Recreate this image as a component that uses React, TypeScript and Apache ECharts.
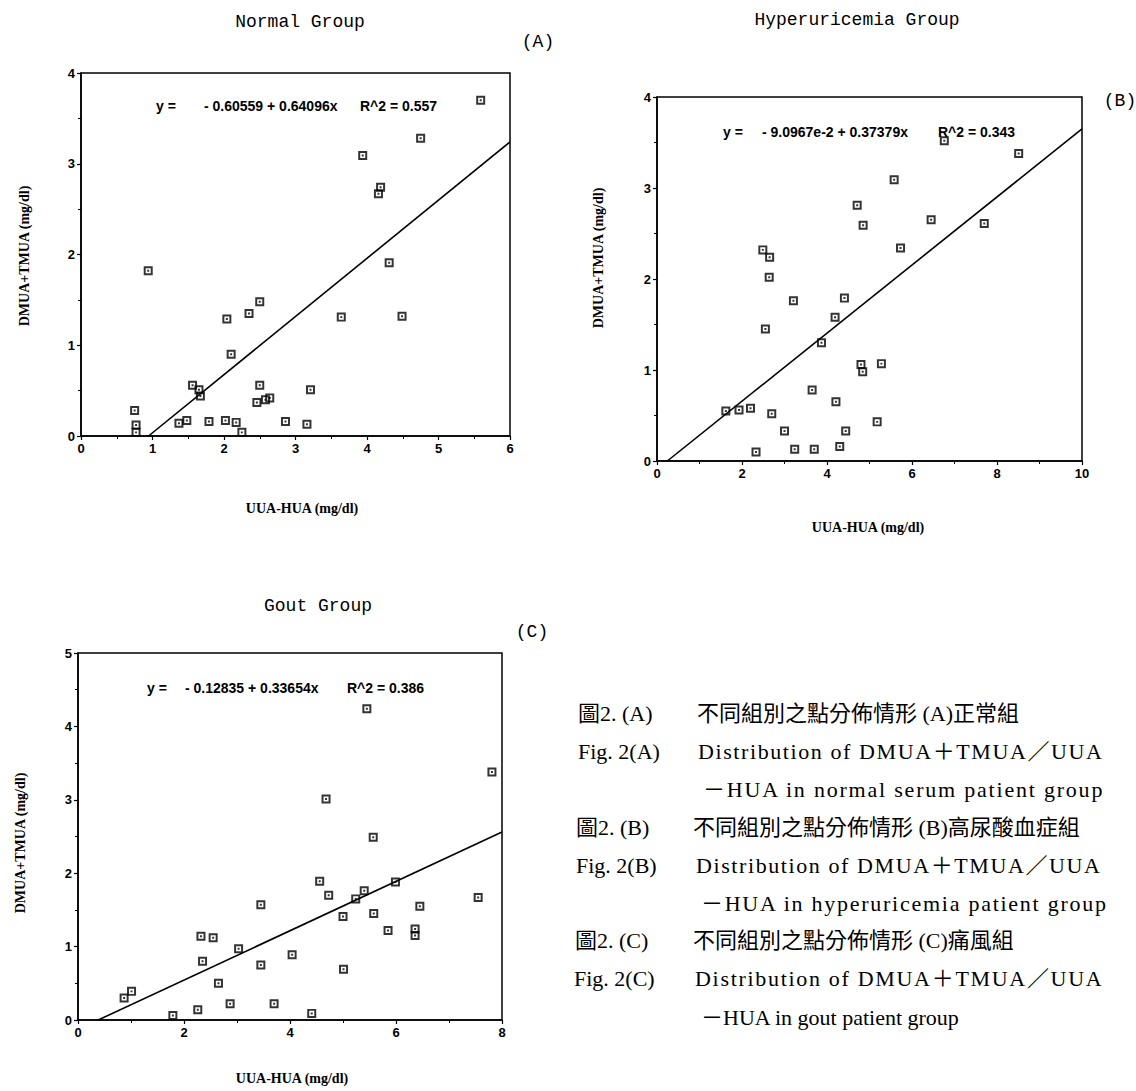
import React, { useEffect, useRef } from "react";
import * as echarts from "echarts";

// ---------- Data ----------
const normalX = [5.59, 4.75, 3.94, 4.19, 4.16, 4.31, 0.94, 2.5, 2.35, 2.04, 3.64, 4.49, 2.1, 1.56, 2.5, 1.65, 1.67, 3.21, 2.46, 2.58, 2.64, 0.75, 0.77, 0.77, 1.37, 1.48, 1.79, 2.02, 2.17, 2.25, 2.86, 3.16];
const normalY = [3.7, 3.28, 3.09, 2.74, 2.67, 1.91, 1.82, 1.48, 1.35, 1.29, 1.31, 1.32, 0.9, 0.56, 0.56, 0.51, 0.44, 0.51, 0.37, 0.4, 0.42, 0.28, 0.12, 0.04, 0.14, 0.17, 0.16, 0.17, 0.15, 0.04, 0.16, 0.13];
const normalFitX = [0.945, 6];
const normalFitY = [0, 3.24];

const hyperX = [6.76, 8.51, 5.58, 4.71, 4.85, 6.45, 7.7, 5.73, 2.49, 2.65, 2.64, 3.21, 4.41, 4.19, 2.55, 3.87, 4.8, 4.84, 5.28, 3.65, 4.21, 1.62, 1.93, 2.2, 2.7, 3.0, 4.44, 5.18, 2.33, 3.24, 3.7, 4.3];
const hyperY = [3.52, 3.38, 3.09, 2.81, 2.59, 2.65, 2.61, 2.34, 2.32, 2.24, 2.02, 1.76, 1.79, 1.58, 1.45, 1.3, 1.06, 0.98, 1.07, 0.78, 0.65, 0.55, 0.56, 0.58, 0.52, 0.33, 0.33, 0.43, 0.1, 0.13, 0.13, 0.16];
const hyperFitX = [0.243, 10];
const hyperFitY = [0, 3.65];

const goutX = [5.45, 7.81, 4.68, 5.57, 4.56, 4.73, 5.99, 5.4, 5.24, 3.45, 6.45, 7.55, 5.0, 5.58, 5.85, 6.36, 6.36, 2.32, 2.55, 3.03, 4.04, 2.35, 3.45, 5.01, 2.65, 0.87, 1.01, 1.79, 2.26, 2.87, 3.7, 4.41];
const goutY = [4.24, 3.38, 3.01, 2.49, 1.89, 1.7, 1.88, 1.76, 1.65, 1.57, 1.55, 1.67, 1.41, 1.45, 1.22, 1.24, 1.15, 1.14, 1.12, 0.97, 0.89, 0.8, 0.75, 0.69, 0.5, 0.3, 0.39, 0.06, 0.14, 0.22, 0.22, 0.09];
const goutFitX = [0.381, 8];
const goutFitY = [0, 2.56];

const panelTitles = ["Normal Group", "Hyperuricemia Group", "Gout Group"];
const panelTags = ["(A)", "(B)", "(C)"];
const eqLead = ["y =", "y =", "y ="];
const eqBody = ["- 0.60559 + 0.64096x", "- 9.0967e-2 + 0.37379x", "- 0.12835 + 0.33654x"];
const eqR2 = ["R^2 = 0.557", "R^2 = 0.343", "R^2 = 0.386"];
const xAxisMax = [6, 10, 8];
const xAxisStep = [1, 2, 2];
const yAxisMax = [4, 4, 5];
const xAxisTitle = "UUA-HUA (mg/dl)";
const yAxisTitle = "DMUA+TMUA (mg/dl)";

const captionLabels = ["圖2. (A)", "Fig. 2(A)", "", "圖2. (B)", "Fig. 2(B)", "", "圖2. (C)", "Fig. 2(C)", ""];
const captionTexts = [
  "不同組別之點分佈情形 (A)正常組",
  "Distribution of DMUA＋TMUA／UUA",
  "－HUA in normal serum patient group",
  "不同組別之點分佈情形 (B)高尿酸血症組",
  "Distribution of DMUA＋TMUA／UUA",
  "－HUA in hyperuricemia patient group",
  "不同組別之點分佈情形 (C)痛風組",
  "Distribution of DMUA＋TMUA／UUA",
  "－HUA in gout patient group",
];

const zip = (xs: number[], ys: number[]) => xs.map((x, i) => [x, ys[i]]);

const MARK = "path://M0,0H10V10H0Z M2.2,2.2V7.8H7.8V2.2Z M3.9,3.9H6.1V6.1H3.9Z";

// justified caption lines: extra spacing between characters
const capSpacing = [0, 1.59, 1.79, 0, 1.59, 1.74, 0, 1.69, 0];
const css = capSpacing
  .map((s, i) => (s > 0 ? `text[style*="capjust${i}"]{letter-spacing:${s}px;}` : ""))
  .join("\n");

export default function App() {
  const ref = useRef<HTMLDivElement>(null);

  useEffect(() => {
    document.body.style.margin = "0";
    const chart = echarts.init(ref.current!, null, { renderer: "svg" });

    const grids = [
      { left: 81, top: 73, width: 429, height: 363 },
      { left: 657, top: 97, width: 425, height: 364 },
      { left: 78, top: 653, width: 424, height: 367 },
    ];

    const axisCommon = {
      type: "value" as const,
      min: 0,
      axisLine: { show: true, onZero: false, lineStyle: { color: "#000", width: 1.5 } },
      axisTick: { show: true, length: 4, lineStyle: { color: "#000", width: 1.2 } },
      minorTick: { show: true, splitNumber: 2, length: 3, lineStyle: { color: "#000", width: 1 } },
      splitLine: { show: false },
      axisLabel: { color: "#000", fontSize: 13, fontWeight: "bold", fontFamily: "Liberation Sans, Arial, sans-serif", margin: 6 },
    };

    const sets = [
      { pts: zip(normalX, normalY), fit: zip(normalFitX, normalFitY) },
      { pts: zip(hyperX, hyperY), fit: zip(hyperFitX, hyperFitY) },
      { pts: zip(goutX, goutY), fit: zip(goutFitX, goutFitY) },
    ];

    const series: any[] = [];
    sets.forEach((s, i) => {
      series.push({
        type: "scatter",
        xAxisIndex: i,
        yAxisIndex: i,
        data: s.pts,
        symbol: MARK,
        symbolSize: 9,
        itemStyle: { color: "#000" },
        z: 3,
      });
      series.push({
        type: "line",
        xAxisIndex: i,
        yAxisIndex: i,
        data: s.fit,
        symbol: "none",
        lineStyle: { color: "#000", width: 1.6 },
        z: 2,
      });
    });

    const monoFont = "Liberation Mono, DejaVu Sans Mono, monospace";
    const serif = "Liberation Serif, Times New Roman, serif";
    const sans = "Liberation Sans, Arial, sans-serif";

    const titlePos = [
      { x: 300, y: 22 },
      { x: 857, y: 20 },
      { x: 318, y: 606 },
    ];
    const tagPos = [
      { x: 538, y: 42 },
      { x: 1120, y: 101 },
      { x: 532, y: 632 },
    ];
    // left x of the three equation pieces, and their centre y
    const eqX = [
      [156, 204, 360],
      [723, 762, 938],
      [147, 185, 347],
    ];
    const eqY = [106, 132, 688];
    const xTitlePos = [
      { x: 302, y: 508 },
      { x: 868, y: 527 },
      { x: 292, y: 1078 },
    ];
    const yTitlePos = [
      { x: 24, y: 256 },
      { x: 598, y: 258 },
      { x: 20, y: 843 },
    ];

    const graphic: any[] = [];
    for (let i = 0; i < 3; i++) {
      graphic.push({
        type: "text", x: titlePos[i].x, y: titlePos[i].y,
        style: { text: panelTitles[i], font: `18px ${monoFont}`, fill: "#000", textAlign: "center", textVerticalAlign: "middle" },
      });
      graphic.push({
        type: "text", x: tagPos[i].x, y: tagPos[i].y,
        style: { text: panelTags[i], font: `18px ${monoFont}`, fill: "#000", textAlign: "center", textVerticalAlign: "middle" },
      });
      [eqLead[i], eqBody[i], eqR2[i]].forEach((t, k) => {
        graphic.push({
          type: "text", x: eqX[i][k], y: eqY[i], z: 10,
          style: { text: t, font: `bold 14px ${sans}`, fill: "#000", textAlign: "left", textVerticalAlign: "middle" },
        });
      });
      graphic.push({
        type: "text", x: xTitlePos[i].x, y: xTitlePos[i].y,
        style: { text: xAxisTitle, font: `bold 14px ${serif}`, fill: "#000", textAlign: "center", textVerticalAlign: "middle" },
      });
      graphic.push({
        type: "text", x: yTitlePos[i].x, y: yTitlePos[i].y, rotation: Math.PI / 2,
        style: { text: yAxisTitle, font: `bold 14px ${serif}`, fill: "#000", textAlign: "center", textVerticalAlign: "middle" },
      });
    }

    const capY = [713, 751, 789, 827, 865, 903, 940, 978, 1017];
    const labelX = [578, 578, 578, 576, 576, 576, 575, 574, 574];
    const textX = [697, 698, 703, 693, 696, 701, 693, 695, 701];
    captionTexts.forEach((t, i) => {
      if (captionLabels[i]) {
        graphic.push({
          type: "text", x: labelX[i], y: capY[i],
          style: { text: captionLabels[i], font: `22px Liberation Serif, Noto Sans CJK TC, serif`, fill: "#000", textAlign: "left", textVerticalAlign: "middle" },
        });
      }
      graphic.push({
        type: "text", x: textX[i], y: capY[i],
        style: { text: t, font: `22px capjust${i}, Liberation Serif, Noto Sans CJK TC, serif`, fill: "#000", textAlign: "left", textVerticalAlign: "middle" },
      });
    });

    chart.setOption({
      animation: false,
      backgroundColor: "#fff",
      grid: grids.map((g) => ({ ...g, show: true, borderColor: "#000", borderWidth: 1.5, backgroundColor: "transparent", containLabel: false })),
      xAxis: [0, 1, 2].map((i) => ({ ...axisCommon, gridIndex: i, max: xAxisMax[i], interval: xAxisStep[i] })),
      yAxis: [0, 1, 2].map((i) => ({ ...axisCommon, gridIndex: i, max: yAxisMax[i], interval: 1 })),
      series,
      graphic,
    });

    return () => chart.dispose();
  }, []);

  return (
    <>
      <style>{css}</style>
      <div ref={ref} style={{ width: 1136, height: 1091 }} />
    </>
  );
}
